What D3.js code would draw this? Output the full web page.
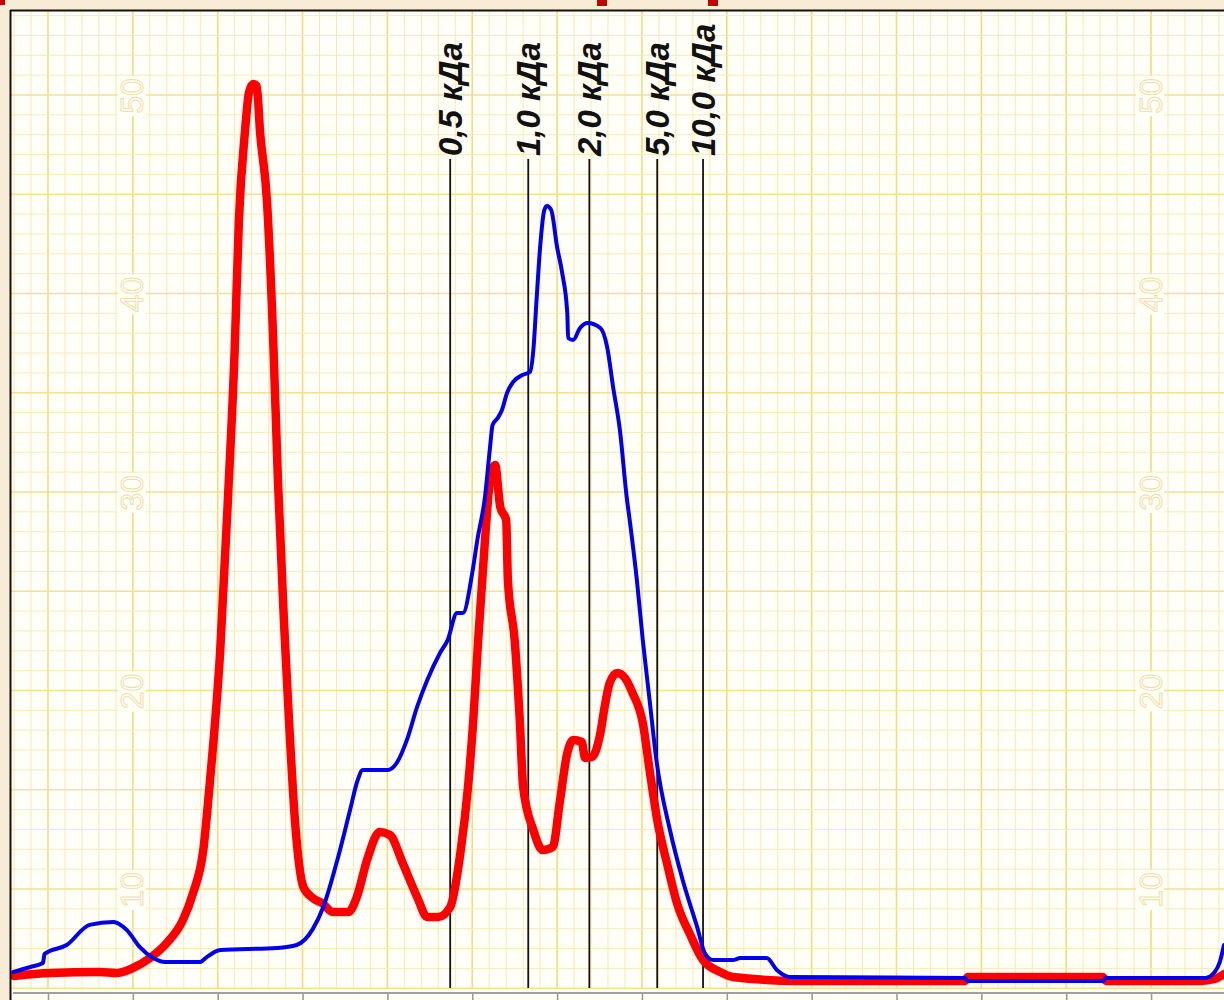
<!DOCTYPE html>
<html>
<head>
<meta charset="utf-8">
<script src="https://cdn.jsdelivr.net/npm/d3@7"></script>
<style>
    body { margin: 0; background: #f8ecd6; }
    svg { display: block; }
</style>
</head>
<body>
<svg id="chart" width="1224" height="1000"></svg>
<script>
    // elution profile, x in major-division units, y in chart-paper units
    var redX = [-0.40, 0.02, 0.61, 0.81, 1.00, 1.20, 1.40, 1.59, 1.71, 1.83, 1.91, 2.03, 2.12, 2.20, 2.25, 2.32, 2.37, 2.42, 2.46, 2.50,
        2.58, 2.65, 2.71, 2.78, 2.84, 2.91, 3.01, 3.12, 3.23, 3.36, 3.54, 3.64, 3.76, 3.91, 4.03, 4.18, 4.35, 4.47, 4.60, 4.74,
        4.86, 4.95, 5.01, 5.07, 5.15, 5.21, 5.27, 5.33, 5.40, 5.42, 5.50, 5.56, 5.60, 5.72, 5.83, 5.95, 6.03, 6.12, 6.19, 6.29,
        6.33, 6.41, 6.51, 6.56, 6.62, 6.71, 6.80, 6.89, 7.01, 7.09, 7.18, 7.30, 7.42, 7.57, 7.72, 7.92, 8.07, 8.86, 10.81, 10.84,
        12.43, 12.47, 13.58, 13.75, 13.86];
    var redY = [5.62, 5.77, 5.82, 5.77, 6.02, 6.52, 7.28, 8.44, 9.80, 11.96, 15.49, 22.04, 29.60, 37.15, 43.70, 48.09, 50.15, 50.55, 50.45, 48.09,
        44.71, 38.16, 30.60, 23.55, 18.51, 13.48, 10.10, 9.55, 9.29, 8.84, 8.84, 9.60, 11.46, 12.87, 12.72, 11.31, 9.60, 8.59, 8.59, 9.09,
        11.81, 15.14, 18.36, 22.54, 27.58, 30.60, 31.36, 29.24, 28.59, 25.57, 22.54, 18.51, 15.14, 12.97, 11.96, 12.12, 14.33, 16.85, 17.51, 17.41,
        16.60, 16.65, 17.86, 19.17, 20.38, 20.88, 20.63, 19.87, 18.36, 15.99, 13.48, 11.21, 9.19, 7.68, 6.42, 5.82, 5.57, 5.37, 5.37, 5.57,
        5.57, 5.37, 5.37, 5.47, 5.72];

    var blueX = [-0.41, -0.21, -0.06, -0.04, 0.22, 0.49, 0.77, 0.93, 1.08, 1.24, 1.38, 1.79, 1.87, 2.03, 2.70, 2.93, 3.12, 3.24, 3.41, 3.56,
        3.65, 3.71, 4.00, 4.11, 4.23, 4.35, 4.47, 4.62, 4.71, 4.82, 4.89, 5.00, 5.06, 5.15, 5.21, 5.24, 5.30, 5.35, 5.41, 5.48,
        5.59, 5.68, 5.72, 5.76, 5.80, 5.85, 5.88, 5.93, 6.00, 6.06, 6.12, 6.13, 6.19, 6.27, 6.36, 6.51, 6.59, 6.66, 6.74, 6.82,
        6.86, 6.94, 7.01, 7.09, 7.17, 7.33, 7.48, 7.65, 7.74, 7.84, 8.07, 8.16, 8.47, 8.59, 8.74, 10.81, 10.84, 12.43, 12.47, 13.64,
        13.75, 13.81, 13.86];
    var blueY = [5.82, 6.07, 6.27, 6.73, 7.18, 8.19, 8.34, 7.93, 7.08, 6.52, 6.32, 6.32, 6.57, 6.93, 7.03, 7.18, 7.98, 9.04, 11.46, 13.98,
        15.49, 15.99, 15.99, 16.35, 17.51, 19.17, 20.53, 21.89, 22.54, 23.90, 23.90, 25.92, 27.58, 29.75, 32.27, 33.38, 33.73, 34.13, 34.99, 35.54,
        35.89, 36.05, 37.15, 39.82, 42.34, 44.21, 44.41, 44.21, 42.34, 41.03, 39.02, 37.76, 37.66, 38.26, 38.51, 38.26, 37.30, 35.29, 33.12, 29.75,
        28.44, 25.57, 22.54, 19.52, 16.50, 12.97, 10.45, 8.09, 6.78, 6.42, 6.42, 6.52, 6.52, 5.92, 5.57, 5.52, 5.37, 5.37, 5.52, 5.52,
        5.82, 6.32, 7.18];

    // molecular weight calibration marks
    var markerX = [4.74, 5.66, 6.38, 7.18, 7.72];
    var markerLabels = ["0,5 кДа", "1,0 кДа", "2,0 кДа", "5,0 кДа", "10,0 кДа"];

    // paper scale printed on the grid
    var yTickValues = [10, 20, 30, 40, 50];
    var labelColumns = [1, 13];
    var xTickValues = d3.range(0, 14);

    var paper = "#fffef7";
    // note: "top" is taken by window.top, so the plot box gets its own names
    var plotL = 11, plotT = 11, plotR = 1224, plotB = 990;

    var svg = d3.select("#chart");

    var x = d3.scaleLinear().domain([0, 13]).range([48, 48 + 13 * 84.85]);
    var y = d3.scaleLinear().domain([10, 50]).range([889, 95]);

    svg.append("defs").append("clipPath").attr("id", "plot")
        .append("rect")
        .attr("x", plotL).attr("y", plotT)
        .attr("width", plotR - plotL).attr("height", plotB - plotT);

    // paper background
    svg.append("rect")
        .attr("x", plotL).attr("y", plotT)
        .attr("width", plotR - plotL).attr("height", 1000 - plotT)
        .attr("fill", paper);

    var grid = svg.append("g").attr("clip-path", "url(#plot)");

    // minor/major grid
    var vLines = d3.range(-3, 71).map(function (i) { return i / 5; });
    grid.selectAll("line.v")
        .data(vLines)
        .enter()
        .append("line")
        .attr("class", "v")
        .attr("x1", function (d) { return x(d); })
        .attr("x2", function (d) { return x(d); })
        .attr("y1", plotT).attr("y2", plotB - 2)
        .attr("stroke", function (d, i) { return (i - 3) % 5 === 0 ? "#f1dc7c" : "#f6eab2"; })
        .attr("stroke-width", function (d, i) { return (i - 3) % 5 === 0 ? 1.6 : 1; });

    var hLines = d3.range(4, 56);
    grid.selectAll("line.h")
        .data(hLines)
        .enter()
        .append("line")
        .attr("class", "h")
        .attr("x1", plotL).attr("x2", plotR)
        .attr("y1", function (d) { return y(d); })
        .attr("y2", function (d) { return y(d); })
        .attr("stroke", function (d) { return d % 5 === 0 ? "#f3e194" : "#f7ecb8"; })
        .attr("stroke-width", function (d) { return d % 5 === 0 ? 1.6 : 1; });

    // printed scale numbers
    var scaleLabels = [];
    labelColumns.forEach(function (c) {
        yTickValues.forEach(function (v) {
            scaleLabels.push({ col: c, val: v });
        });
    });

    var lab = grid.selectAll("g.scale")
        .data(scaleLabels)
        .enter()
        .append("g")
        .attr("class", "scale")
        .attr("transform", function (d) {
            return "translate(" + (x(d.col) - 1) + "," + (y(d.val) + 1) + ") rotate(-90)";
        });

    lab.append("rect")
        .attr("x", -20).attr("y", -14)
        .attr("width", 40).attr("height", 28)
        .attr("fill", paper);

    lab.append("text")
        .attr("text-anchor", "middle")
        .attr("dy", "0.36em")
        .style("font-family", "Liberation Sans, Arial, sans-serif")
        .style("font-size", "32px")
        .attr("fill", paper)
        .attr("stroke", "#efe0a8")
        .attr("stroke-width", 1)
        .text(function (d) { return d.val; });

    // calibration lines
    var marks = svg.append("g");
    marks.selectAll("line")
        .data(markerX)
        .enter()
        .append("line")
        .attr("x1", function (d) { return x(d); })
        .attr("x2", function (d) { return x(d); })
        .attr("y1", 159).attr("y2", plotB - 2)
        .attr("stroke", "#111")
        .attr("stroke-width", 1.8);

    marks.selectAll("text")
        .data(markerX)
        .enter()
        .append("text")
        .attr("transform", function (d) { return "translate(" + x(d) + ",156) rotate(-90)"; })
        .attr("dy", "0.35em")
        .style("font-family", "Liberation Sans, Arial, sans-serif")
        .style("font-size", "33px")
        .style("font-weight", "bold")
        .style("font-style", "italic")
        .attr("fill", "#111")
        .text(function (d, i) { return markerLabels[i]; });

    // curves
    var line = d3.line()
        .curve(d3.curveMonotoneX)
        .x(function (d) { return x(d[0]); })
        .y(function (d) { return y(d[1]); });

    var curves = svg.append("g").attr("clip-path", "url(#plot)");

    curves.append("path")
        .datum(d3.zip(redX, redY))
        .attr("d", line)
        .attr("fill", "none")
        .attr("stroke", "#ff0000")
        .attr("stroke-width", 8.5)
        .attr("stroke-linejoin", "round")
        .attr("stroke-linecap", "round");

    curves.append("path")
        .datum(d3.zip(blueX, blueY))
        .attr("d", line)
        .attr("fill", "none")
        .attr("stroke", "#0000ee")
        .attr("stroke-width", 4)
        .attr("stroke-linejoin", "round")
        .attr("stroke-linecap", "round");

    // bottom axis
    var axis = d3.axisBottom(x)
        .tickValues(xTickValues)
        .tickSize(8)
        .tickFormat("");

    var ax = svg.append("g")
        .attr("transform", "translate(0,993)")
        .call(axis);
    ax.select(".domain").remove();
    ax.selectAll(".tick line").attr("stroke", "#9a9a9a").attr("stroke-width", 1.6);
    ax.append("line")
        .attr("x1", plotL + 2).attr("x2", plotR)
        .attr("stroke", "#a0a0a0")
        .attr("stroke-width", 2);

    // frame
    svg.append("line")
        .attr("x1", plotL - 1).attr("x2", plotR)
        .attr("y1", plotT - 0.5).attr("y2", plotT - 0.5)
        .attr("stroke", "#111").attr("stroke-width", 2);
    svg.append("line")
        .attr("x1", plotL - 0.5).attr("x2", plotL - 0.5)
        .attr("y1", plotT - 1).attr("y2", 1000)
        .attr("stroke", "#111").attr("stroke-width", 2);

    // bits of the page above, cut by the crop
    var cropMarks = [[0, 0, 5, 5], [597, 0, 10, 6], [708, 0, 10, 6]];
    svg.selectAll("rect.crop")
        .data(cropMarks)
        .enter()
        .append("rect")
        .attr("class", "crop")
        .attr("x", function (d) { return d[0]; })
        .attr("y", function (d) { return d[1]; })
        .attr("width", function (d) { return d[2]; })
        .attr("height", function (d) { return d[3]; })
        .attr("fill", "#c40000");
</script>
</body>
</html>
